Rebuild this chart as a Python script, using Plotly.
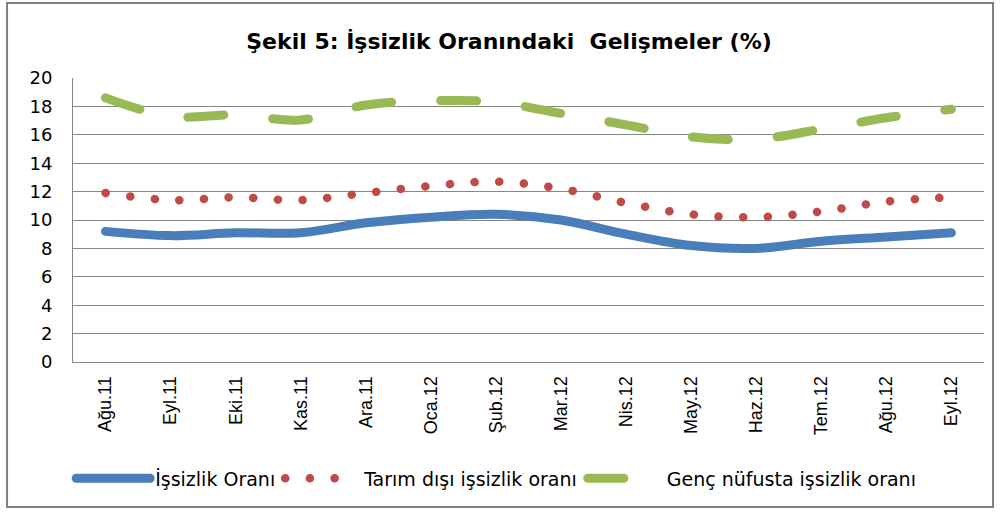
import plotly.graph_objects as go

categories = ["Ağu.11", "Eyl.11", "Eki.11", "Kas.11", "Ara.11", "Oca.12", "Şub.12",
              "Mar.12", "Nis.12", "May.12", "Haz.12", "Tem.12", "Ağu.12", "Eyl.12"]
issizlik = [9.2, 8.9, 9.1, 9.1, 9.8, 10.2, 10.4, 10.0, 9.0, 8.2, 8.0, 8.5, 8.8, 9.1]
tarim_disi = [11.9, 11.4, 11.6, 11.4, 11.9, 12.4, 12.7, 12.2, 11.2, 10.4, 10.2, 10.6, 11.3, 11.6]
genc = [18.6, 17.3, 17.4, 17.05, 18.1, 18.4, 18.3, 17.5, 16.7, 15.85, 15.7, 16.4, 17.2, 17.8]
y_ticks = [0, 2, 4, 6, 8, 10, 12, 14, 16, 18, 20]

fig = go.Figure()
fig.add_trace(go.Scatter(x=categories, y=issizlik, name="İşsizlik Oranı", mode="lines",
                         line=dict(color="#4a7ebb", width=9, shape="spline")))
fig.add_trace(go.Scatter(x=categories, y=tarim_disi, name="Tarım dışı işsizlik oranı", mode="lines",
                         line=dict(color="#be4b48", width=8.5, shape="spline", dash="0.1px,24.6px")))
fig.add_trace(go.Scatter(x=categories, y=genc, name="Genç nüfusta işsizlik oranı", mode="lines",
                         line=dict(color="#98b954", width=9, shape="spline", dash="36px,49px")))

fig.update_layout(
    width=1000, height=514,
    margin=dict(l=73, r=16, t=78, b=152),
    paper_bgcolor="white", plot_bgcolor="white",
    title=dict(text="<b>Şekil 5: İşsizlik Oranındaki  Gelişmeler (%)</b>", x=0.509, xanchor="center",
               y=0.92, yanchor="middle",
               font=dict(family="DejaVu Sans", size=22, color="black")),
    font=dict(family="Liberation Sans, Arial", color="black"),
    showlegend=True,
    legend=dict(orientation="h", x=-0.002, xanchor="left", y=-0.41, yanchor="middle",
                font=dict(family="DejaVu Sans", size=19),
                itemwidth=74, bgcolor="rgba(0,0,0,0)"),
    xaxis=dict(type="category", range=[-0.5, 13.5], tickangle=-90, showgrid=False, showline=True,
               linecolor="#868686", linewidth=1, ticks="", ticklabelstandoff=6, automargin=False,
               tickfont=dict(family="Liberation Sans, Arial", size=18, color="black")),
    yaxis=dict(range=[0, 20], tickvals=y_ticks, showgrid=True, gridcolor="#868686", gridwidth=1,
               showline=True, linecolor="#868686", linewidth=1, ticks="", zeroline=False,
               ticklabelstandoff=16, automargin=False,
               tickfont=dict(family="DejaVu Sans", size=18, color="black")),
    shapes=[dict(type="rect", xref="paper", yref="paper", x0=-0.0724, x1=1.0099, y0=-0.5106, y1=1.264,
                 line=dict(color="#7f7f7f", width=2), fillcolor="rgba(0,0,0,0)", layer="below")],
)

post = """
document.body.style.margin = '0';
var gd = document.getElementById('{plot_id}');
function caps(){
  gd.querySelectorAll('.scatterlayer .js-line, .legend .js-line').forEach(function(p){
    p.style.strokeLinecap = 'round';
  });
}
caps();
gd.on('plotly_afterplot', caps);
"""
fig.write_html("out.html", post_script=post, config={"displayModeBar": False})
